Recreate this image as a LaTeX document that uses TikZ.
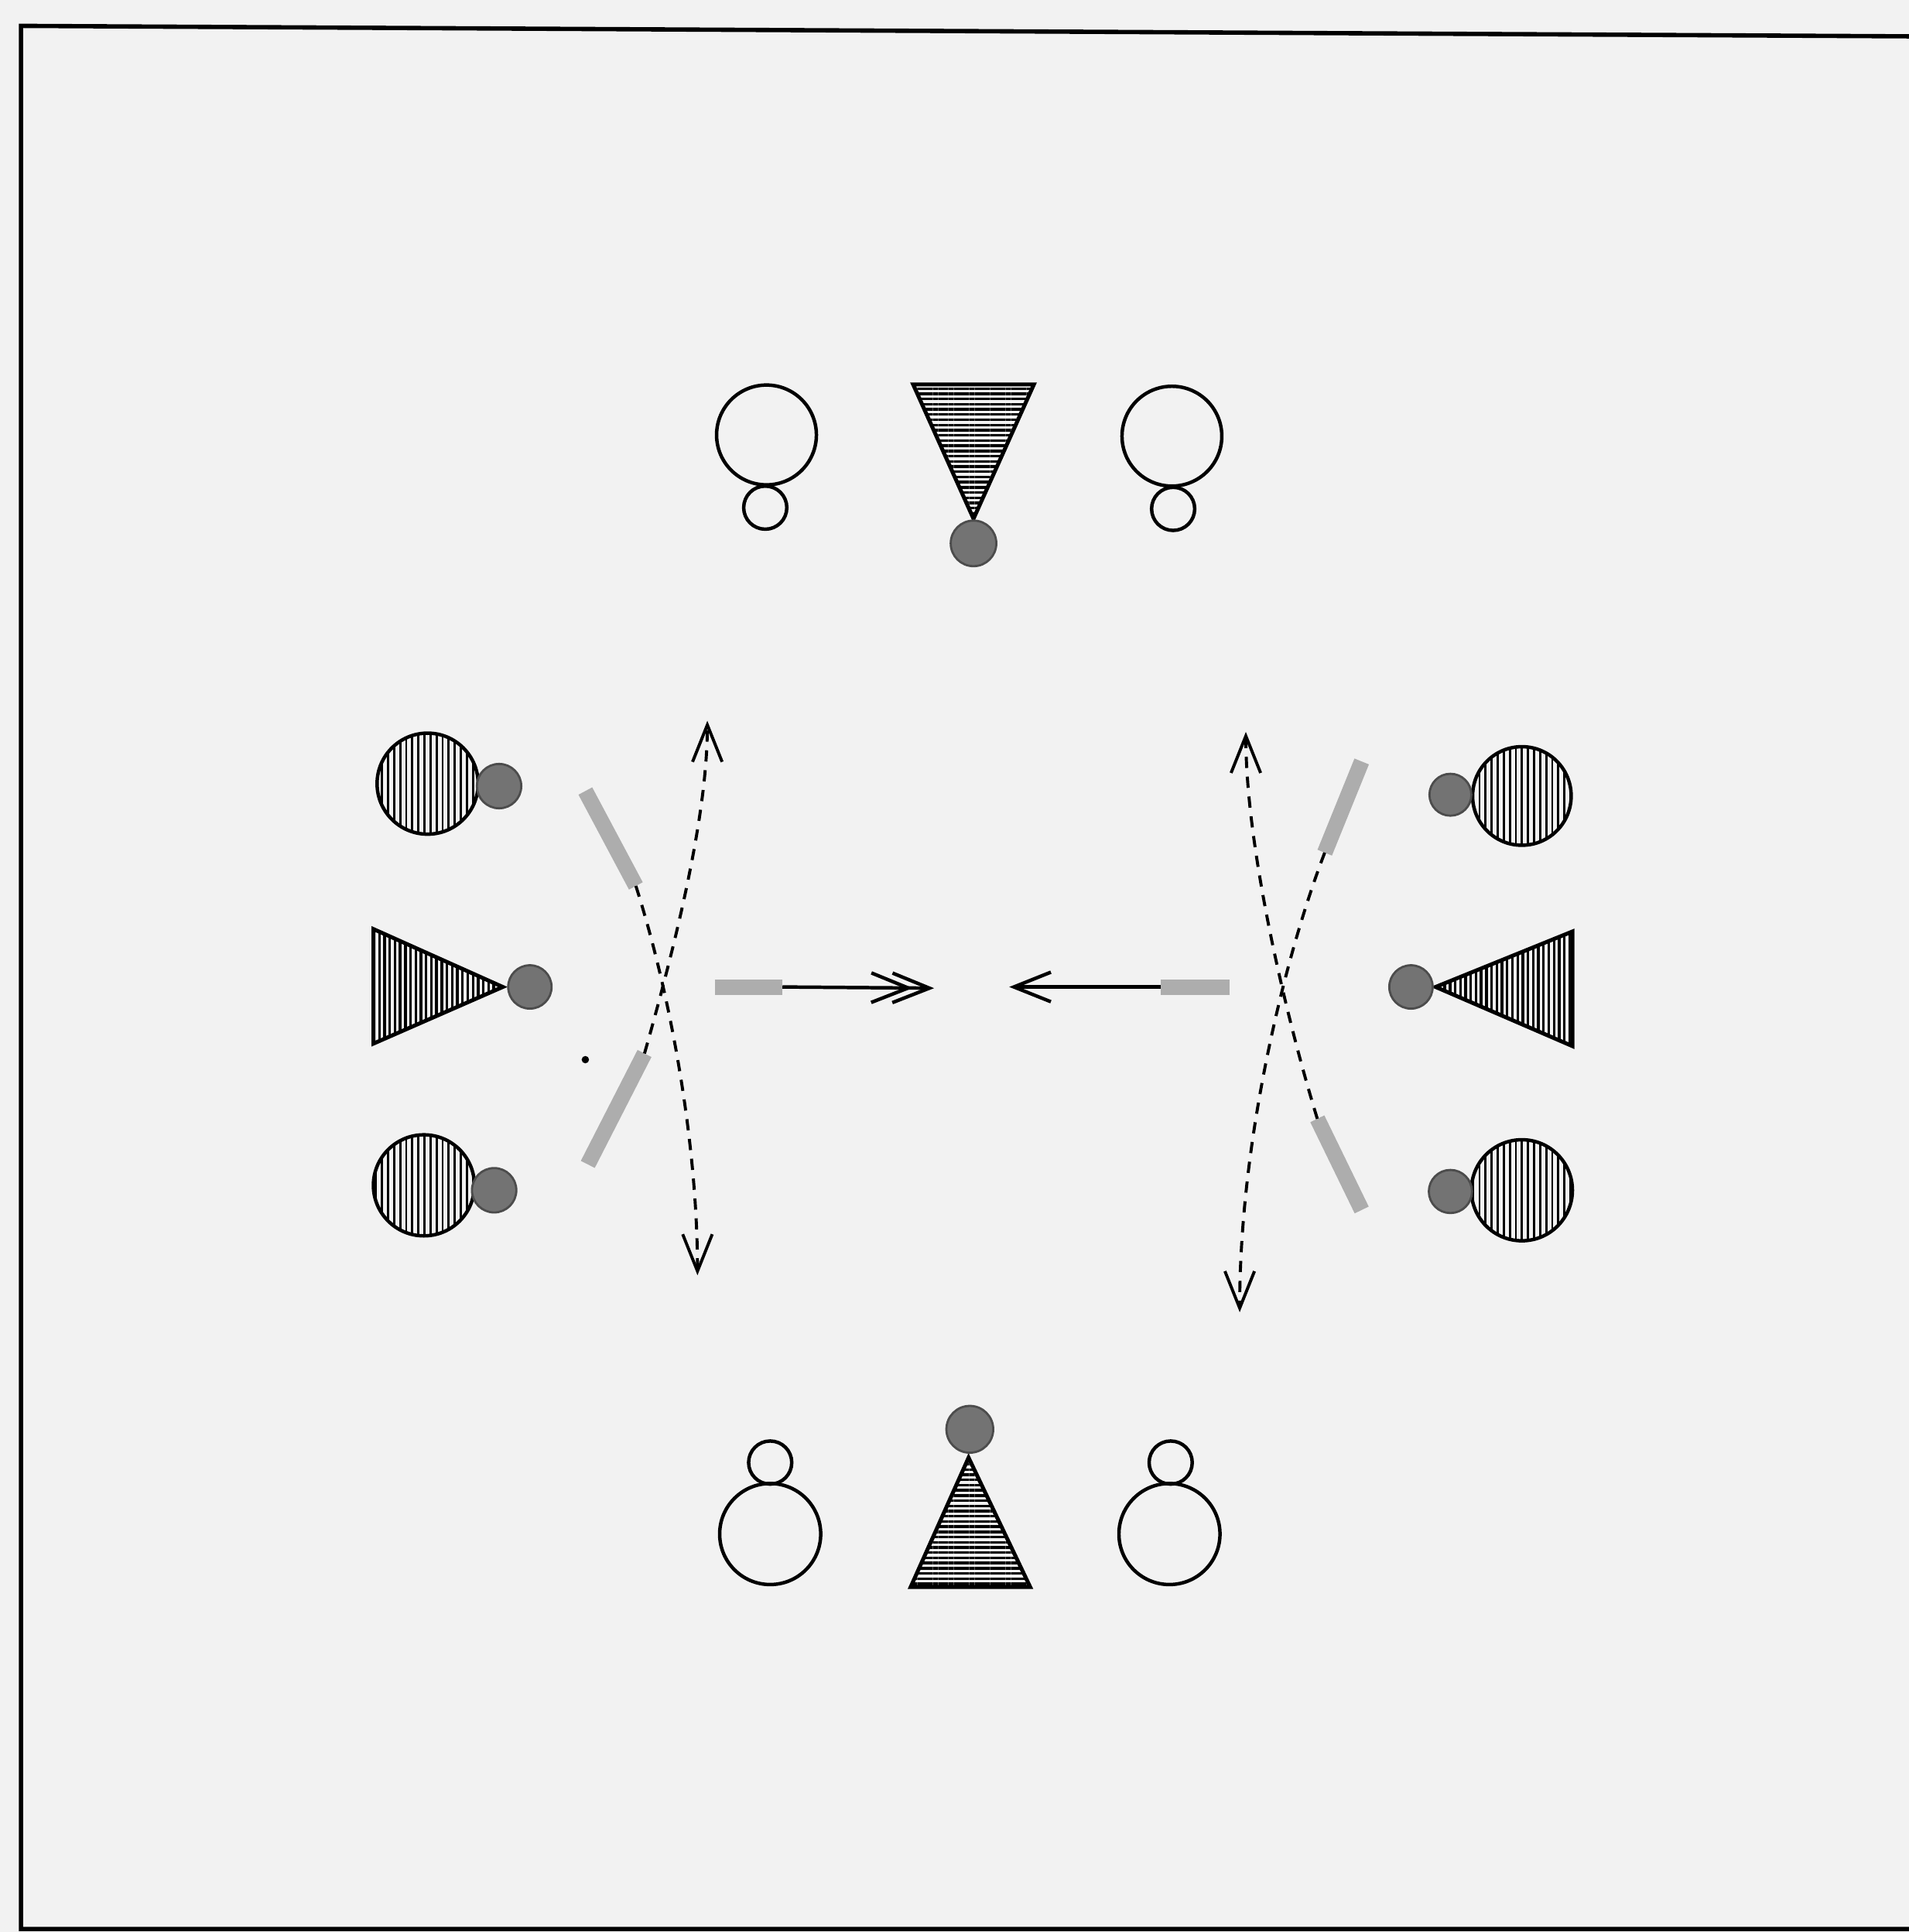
\documentclass[tikz,border=0pt]{standalone}
\usetikzlibrary{arrows.meta,patterns.meta}
\definecolor{carta}{RGB}{242,242,242}
\begin{document}
\begin{tikzpicture}[x=1cm, y=-1cm,
    >={Straight Barb[length=3mm, width=2.4mm]},
    anello/.style={draw, line width=0.8pt},
    anellopieno/.style={draw, line width=0.8pt, pattern={Lines[angle=90, distance=1.4pt, line width=0.5pt]}},
    conoor/.style={draw, line width=0.9pt, pattern={Lines[angle=0, distance=1.2pt, line width=0.6pt]}},
    conovert/.style={draw, line width=0.9pt, pattern={Lines[angle=90, distance=1.2pt, line width=0.6pt]}},
    palla/.style={draw=black!70, fill=black!55, line width=0.5pt},
    scia/.style={line width=3.6pt, black!32},
    traiettoria/.style={->, line width=0.7pt, dash pattern=on 2.6pt off 2pt}]
        % Foglio e cornice
        \fill[carta] (0,0) rectangle (15.49,15.68);
        \useasboundingbox (0,0) rectangle (15.49,15.68);
        \draw[line width=1pt] (15.49,0.295) -- (0.17,0.21) -- (0.17,15.655) -- (15.49,15.655);

        % Gruppo in alto
        \draw[anello] (6.22,3.53) circle (0.405);
        \draw[anello] (6.21,4.12) circle (0.175);
        \draw[conoor] (7.41,3.12) -- (8.39,3.12) -- (7.90,4.21) -- cycle;
        \draw[palla] (7.90,4.41) circle (0.185);
        \draw[anello] (9.51,3.54) circle (0.405);
        \draw[anello] (9.52,4.13) circle (0.175);

        % Gruppo in basso
        \draw[anello] (6.25,11.87) circle (0.175);
        \draw[anello] (6.25,12.45) circle (0.41);
        \draw[conoor] (7.86,11.83) -- (8.36,12.88) -- (7.39,12.88) -- cycle;
        \draw[palla] (7.87,11.60) circle (0.19);
        \draw[anello] (9.50,11.87) circle (0.175);
        \draw[anello] (9.49,12.45) circle (0.41);

        % Gruppo a sinistra
        \draw[anellopieno] (3.47,6.36) circle (0.41);
        \draw[palla] (4.05,6.38) circle (0.18);
        \draw[conovert] (3.03,7.54) -- (4.08,8.01) -- (3.03,8.47) -- cycle;
        \draw[palla] (4.30,8.01) circle (0.176);
        \draw[anellopieno] (3.44,9.62) circle (0.41);
        \draw[palla] (4.01,9.66) circle (0.18);
        \fill (4.75,8.60) circle (0.03);

        % Gruppo a destra
        \draw[anellopieno] (12.35,6.46) circle (0.40);
        \draw[palla] (11.77,6.45) circle (0.17);
        \draw[conovert] (12.76,7.56) -- (11.65,8.01) -- (12.76,8.49) -- cycle;
        \draw[palla] (11.45,8.01) circle (0.176);
        \draw[anellopieno] (12.35,9.66) circle (0.41);
        \draw[palla] (11.77,9.67) circle (0.175);

        % Passaggi al centro
        \coordinate (PS) at (6.35,8.01);
        \coordinate (PD) at (9.42,8.01);
        \draw[scia] (5.80,8.01) -- (PS);
        \draw[-{Straight Barb[length=3mm, width=2.4mm, sep=-1.8mm] Straight Barb[length=3mm, width=2.4mm]}, line width=0.8pt] (PS) -- (7.58,8.02);
        \draw[scia] (9.98,8.01) -- (PD);
        \draw[->, line width=0.8pt] (PD) -- (8.19,8.01);

        % Incroci a sinistra
        \coordinate (A) at (5.16,7.19);
        \coordinate (B) at (5.23,8.55);
        \draw[scia] (4.75,6.42) -- (A);
        \draw[traiettoria] (A) .. controls (5.45,8.10) and (5.66,9.30) .. (5.66,10.35);
        \draw[scia] (4.77,9.45) -- (B);
        \draw[traiettoria] (B) .. controls (5.50,7.60) and (5.74,6.60) .. (5.74,5.85);

        % Incroci a destra
        \coordinate (C) at (10.75,6.92);
        \coordinate (D) at (10.69,9.08);
        \draw[scia] (11.05,6.18) -- (C);
        \draw[traiettoria] (C) .. controls (10.45,7.70) and (10.06,9.20) .. (10.06,10.65);
        \draw[scia] (11.05,9.82) -- (D);
        \draw[traiettoria] (D) .. controls (10.45,8.30) and (10.11,6.90) .. (10.11,5.94);
\end{tikzpicture}
\end{document}
